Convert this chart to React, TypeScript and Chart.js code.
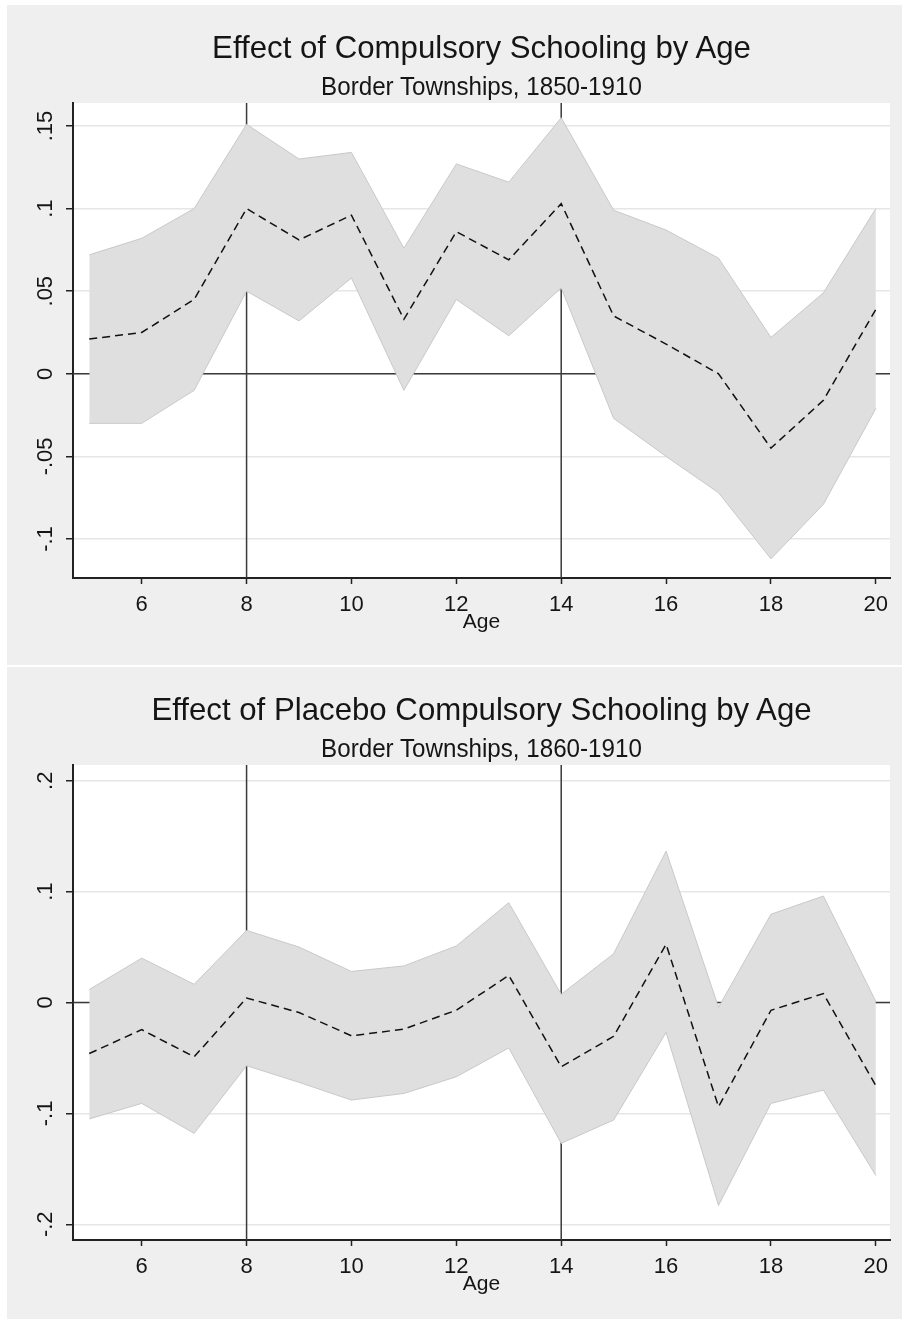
import React, { useEffect, useRef } from "react";
import { Chart, registerables } from "chart.js";

Chart.register(...registerables);

// ---------- data ----------
const AGES = [5, 6, 7, 8, 9, 10, 11, 12, 13, 14, 15, 16, 17, 18, 19, 20];
const X_TICKS = [6, 8, 10, 12, 14, 16, 18, 20];
const X_MIN = 4.69;
const X_MAX = 20.27;
const X_LABEL = "Age";
const REF_AGES = [8, 14];
const REF_Y = 0;

const P1_TITLE = "Effect of Compulsory Schooling by Age";
const P1_SUBTITLE = "Border Townships, 1850-1910";
const P1_EST = [0.021, 0.025, 0.045, 0.1, 0.081, 0.096, 0.033, 0.086, 0.069, 0.103, 0.035, 0.018, 0.0, -0.045, -0.016, 0.039];
const P1_HI = [0.072, 0.082, 0.1, 0.151, 0.13, 0.134, 0.076, 0.127, 0.116, 0.155, 0.099, 0.087, 0.07, 0.022, 0.049, 0.1];
const P1_LO = [-0.03, -0.03, -0.01, 0.05, 0.032, 0.058, -0.01, 0.045, 0.023, 0.052, -0.027, -0.05, -0.072, -0.112, -0.079, -0.021];
const P1_Y_TICKS = [-0.1, -0.05, 0, 0.05, 0.1, 0.15];
const P1_Y_LABELS = ["-.1", "-.05", "0", ".05", ".1", ".15"];
const P1_Y_MIN = -0.1236;
const P1_Y_MAX = 0.1639;

const P2_TITLE = "Effect of Placebo Compulsory Schooling by Age";
const P2_SUBTITLE = "Border Townships, 1860-1910";
const P2_EST = [-0.046, -0.0245, -0.049, 0.004, -0.009, -0.03, -0.024, -0.007, 0.0245, -0.058, -0.0305, 0.0525, -0.094, -0.007, 0.008, -0.075];
const P2_HI = [0.0117, 0.04, 0.0164, 0.065, 0.05, 0.028, 0.033, 0.051, 0.09, 0.0074, 0.044, 0.1365, -0.0043, 0.0796, 0.096, 0.001];
const P2_LO = [-0.105, -0.091, -0.118, -0.057, -0.072, -0.088, -0.082, -0.067, -0.041, -0.127, -0.106, -0.027, -0.183, -0.091, -0.079, -0.156];
const P2_Y_TICKS = [-0.2, -0.1, 0, 0.1, 0.2];
const P2_Y_LABELS = ["-.2", "-.1", "0", ".1", ".2"];
const P2_Y_MIN = -0.2142;
const P2_Y_MAX = 0.2142;

// ---------- styling ----------
const FONT = "'Liberation Sans', Arial, Helvetica, sans-serif";
const TEXT = "#151515";
const PANEL_W = 895;
const PANEL_H = 660;
const AREA_LEFT = 66;
const AREA_TOP = 98;
const AREA_RIGHT_PAD = 12;
const X_AXIS_H = 87;
const TICK_FONT = 22;
const Y_LABEL_CENTER = 38.5;

Chart.defaults.font.family = FONT;
Chart.defaults.color = TEXT;

const plotBg = {
  id: "plotBg",
  beforeDraw(chart: any) {
    const { ctx, chartArea: a } = chart;
    ctx.save();
    ctx.fillStyle = "#ffffff";
    ctx.fillRect(a.left, a.top, a.right - a.left, a.bottom - a.top);
    ctx.restore();
  },
};

type PanelProps = {
  top: number;
  title: string;
  subtitle: string;
  est: number[];
  hi: number[];
  lo: number[];
  yTicks: number[];
  yLabels: string[];
  yMin: number;
  yMax: number;
};

function Panel(props: PanelProps) {
  const { top, title, subtitle, est, hi, lo, yTicks, yLabels, yMin, yMax } = props;
  const ref = useRef<HTMLCanvasElement>(null);

  useEffect(() => {
    const canvas = ref.current!;
    const mctx = canvas.getContext("2d")!;
    mctx.font = `${TICK_FONT}px ${FONT}`;
    const widest = Math.max(...yLabels.map((l) => mctx.measureText(l).width));
    const yTickLen = 7;
    const yPad = AREA_LEFT - yTickLen - widest / 2 - Y_LABEL_CENTER;

    const pts = (vals: number[]) => AGES.map((a, i) => ({ x: a, y: vals[i] }));
    const refLine = (data: any[], order: number) => ({
      data,
      borderColor: "#3a3a3a",
      borderWidth: 1.5,
      pointRadius: 0,
      fill: false,
      order,
    });

    const datasets: any[] = [
      {
        data: pts(est),
        borderColor: "#111111",
        borderWidth: 1.5,
        borderDash: [8, 5],
        pointRadius: 0,
        fill: false,
        order: 0,
      },
      {
        data: pts(lo),
        borderColor: "#c9c9c9",
        borderWidth: 1,
        pointRadius: 0,
        fill: false,
        order: 1,
      },
      {
        data: pts(hi),
        borderColor: "#c9c9c9",
        borderWidth: 1,
        backgroundColor: "#dfdfdf",
        pointRadius: 0,
        fill: "-1",
        order: 2,
      },
      refLine([{ x: X_MIN, y: REF_Y }, { x: X_MAX, y: REF_Y }], 3),
      ...REF_AGES.map((a, k) => refLine([{ x: a, y: yMin }, { x: a, y: yMax }], 4 + k)),
    ];

    const chart = new Chart(canvas, {
      type: "line",
      data: { datasets },
      plugins: [plotBg],
      options: {
        animation: false,
        responsive: false,
        maintainAspectRatio: false,
        devicePixelRatio: 1,
        events: [],
        layout: { padding: { top: AREA_TOP, right: AREA_RIGHT_PAD, left: 0, bottom: 0 } },
        elements: { line: { tension: 0 } },
        plugins: {
          legend: { display: false },
          tooltip: { enabled: false },
          title: { display: false },
        },
        scales: {
          x: {
            type: "linear",
            min: X_MIN,
            max: X_MAX,
            afterBuildTicks: (s: any) => {
              s.ticks = X_TICKS.map((v) => ({ value: v }));
            },
            afterFit: (s: any) => {
              s.height = X_AXIS_H;
            },
            grid: {
              drawOnChartArea: false,
              drawTicks: true,
              tickLength: 6,
              tickColor: "#222222",
              tickWidth: 1.5,
            },
            border: { color: "#222222", width: 2 },
            ticks: {
              color: TEXT,
              font: { size: TICK_FONT, family: FONT },
              padding: 8,
              maxRotation: 0,
              minRotation: 0,
              autoSkip: false,
              callback: (v: any) => String(v),
            },
            title: {
              display: true,
              text: X_LABEL,
              color: TEXT,
              font: { size: 21, family: FONT },
              padding: { top: 0, bottom: 30 },
            },
          },
          y: {
            type: "linear",
            min: yMin,
            max: yMax,
            afterBuildTicks: (s: any) => {
              s.ticks = yTicks.map((v) => ({ value: v }));
            },
            afterFit: (s: any) => {
              s.width = AREA_LEFT;
            },
            grid: {
              color: "#e6e6e6",
              lineWidth: 1.5,
              drawTicks: true,
              tickLength: yTickLen,
              tickColor: "#222222",
              tickWidth: 1.5,
            },
            border: { color: "#222222", width: 2 },
            ticks: {
              color: TEXT,
              font: { size: TICK_FONT, family: FONT },
              minRotation: 90,
              maxRotation: 90,
              crossAlign: "center",
              padding: yPad,
              autoSkip: false,
              callback: (v: any) => {
                const i = yTicks.findIndex((t) => Math.abs(t - v) < 1e-9);
                return i >= 0 ? yLabels[i] : "";
              },
            },
          },
        },
      } as any,
    });

    return () => chart.destroy();
  }, []);

  return (
    <div
      style={{
        position: "absolute",
        left: 7,
        top,
        width: PANEL_W,
        height: PANEL_H,
        background: "#efefef",
      }}
    >
      <canvas
        ref={ref}
        width={PANEL_W}
        height={PANEL_H}
        style={{ position: "absolute", left: 0, top: 0, width: PANEL_W, height: PANEL_H }}
      />
      <div
        style={{
          position: "absolute",
          left: AREA_LEFT,
          width: PANEL_W - AREA_LEFT - AREA_RIGHT_PAD,
          top: 26,
          fontFamily: FONT,
          fontSize: 32,
          lineHeight: "32px",
          color: TEXT,
          textAlign: "center",
          whiteSpace: "nowrap",
          transform: "scaleX(0.975)",
          transformOrigin: "center",
        }}
      >
        {title}
      </div>
      <div
        style={{
          position: "absolute",
          left: AREA_LEFT,
          width: PANEL_W - AREA_LEFT - AREA_RIGHT_PAD,
          top: 68,
          fontFamily: FONT,
          fontSize: 26,
          lineHeight: "26px",
          color: TEXT,
          textAlign: "center",
          whiteSpace: "nowrap",
          transform: "scaleX(0.93)",
          transformOrigin: "center",
        }}
      >
        {subtitle}
      </div>
    </div>
  );
}

export default function App() {
  return (
    <div
      style={{
        position: "absolute",
        left: 0,
        top: 0,
        width: 902,
        height: 1319,
        overflow: "hidden",
        background: "#ffffff",
      }}
    >
      <Panel
        top={5}
        title={P1_TITLE}
        subtitle={P1_SUBTITLE}
        est={P1_EST}
        hi={P1_HI}
        lo={P1_LO}
        yTicks={P1_Y_TICKS}
        yLabels={P1_Y_LABELS}
        yMin={P1_Y_MIN}
        yMax={P1_Y_MAX}
      />
      <Panel
        top={667}
        title={P2_TITLE}
        subtitle={P2_SUBTITLE}
        est={P2_EST}
        hi={P2_HI}
        lo={P2_LO}
        yTicks={P2_Y_TICKS}
        yLabels={P2_Y_LABELS}
        yMin={P2_Y_MIN}
        yMax={P2_Y_MAX}
      />
    </div>
  );
}
